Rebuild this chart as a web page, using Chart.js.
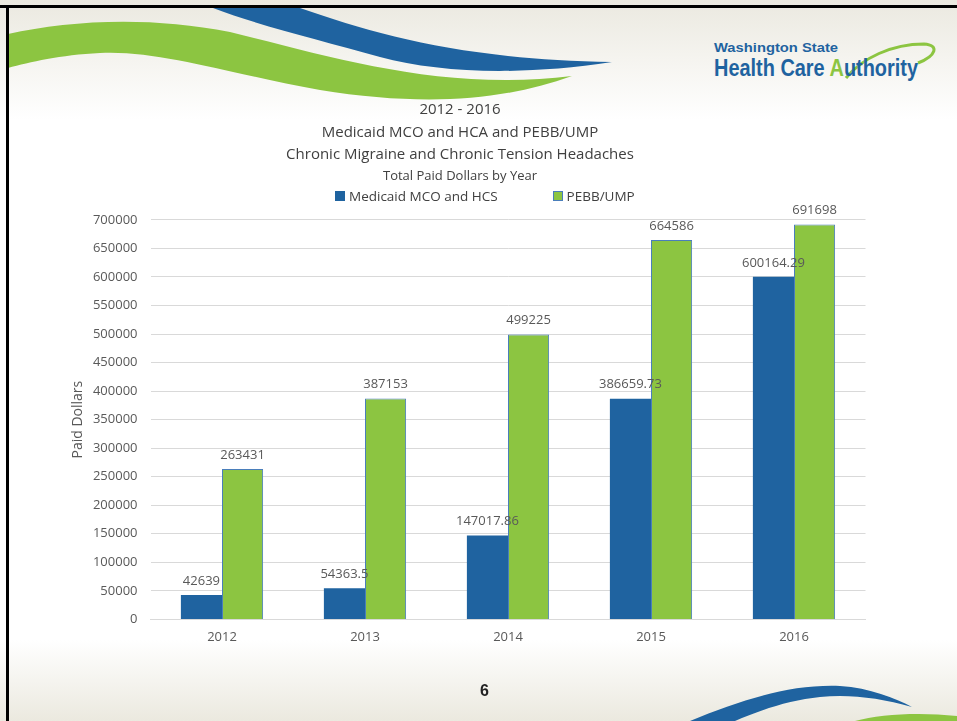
<!DOCTYPE html>
<html>
<head>
<meta charset="utf-8">
<title>Chronic Migraine and Chronic Tension Headaches</title>
<script src="https://cdn.jsdelivr.net/npm/chart.js@4.4.1/dist/chart.umd.min.js"></script>
<style>
  html, body { margin: 0; padding: 0; }
  body { width: 957px; height: 721px; position: relative; overflow: hidden; background: #fff; font-family: "Open Sans", sans-serif; }
  #bg { position: absolute; left: 0; top: 0; }
  #chart { position: absolute; left: 0; top: 0; }
  #legend { position: absolute; left: 335px; top: 187px; display: flex; gap: 55px; font-size: 13.5px; color: #404040; }
  #legend .item { display: flex; align-items: center; white-space: nowrap; }
  #legend .box { width: 10px; height: 10px; box-sizing: border-box; margin-right: 4px; }
  #page { position: absolute; left: 480px; top: 682px; font: bold 16px "Liberation Sans", Arial, sans-serif; color: #222; }
</style>
</head>
<body>
<!-- slide background, swooshes and logo -->
<svg id="bg" width="957" height="721" xmlns="http://www.w3.org/2000/svg">
  <defs>
    <linearGradient id="topGrad" x1="0" y1="0" x2="0" y2="1">
      <stop offset="0" stop-color="#ebe9e0"/>
      <stop offset="1" stop-color="#ffffff"/>
    </linearGradient>
    <linearGradient id="botGrad" x1="0" y1="0" x2="0" y2="1">
      <stop offset="0" stop-color="#ffffff"/>
      <stop offset="1" stop-color="#ebe9df"/>
    </linearGradient>
  </defs>
  <rect x="0" y="0" width="957" height="120" fill="url(#topGrad)"/>
  <rect x="0" y="640" width="957" height="81" fill="url(#botGrad)"/>
  <!-- top swooshes -->
  <path d="M213,8 L300,8 C380,36 470,60 612,62 C520,76 440,73 380,57 C320,40 260,26 213,8 Z" fill="#1f63a0"/>
  <path d="M8,34 C70,20 150,16 230,32 C330,56 440,92 572,76 C500,102 420,106 320,90 C230,74 160,50 100,53 C60,55 30,62 8,68 Z" fill="#8cc541"/>
  <!-- bottom swooshes -->
  <path d="M690,721 C740,700 790,684 840,686 C870,688 895,698 912,707 C880,698 850,694 820,697 C790,700 760,710 735,721 Z" fill="#1f63a0"/>
  <path d="M855,721 C880,714 920,712 957,716 L957,721 Z" fill="#8cc541"/>
  <!-- border -->
  <rect x="0" y="5" width="957" height="3" fill="#000"/>
  <rect x="6" y="5" width="3" height="716" fill="#000"/>
  <!-- logo -->
  <path d="M846,78 C862,58 892,44 924,44 C940,45 936,56 918,63" fill="none" stroke="#8cc541" stroke-width="3"/>
  <text x="714" y="52" textLength="124" lengthAdjust="spacingAndGlyphs" font-family="Liberation Sans Narrow, Liberation Sans" font-weight="bold" font-size="13" fill="#1f63a0">Washington State</text>
  <text x="714" y="76" textLength="204" lengthAdjust="spacingAndGlyphs" font-family="Liberation Sans Narrow, Liberation Sans" font-weight="bold" font-size="24" fill="#1f63a0">Health Care <tspan fill="#8cc541">A</tspan>uthority</text>
</svg>

<canvas id="chart" width="957" height="721"></canvas>
<div id="legend"></div>
<div id="page">6</div>

<script>
// data
const years = ["2012", "2013", "2014", "2015", "2016"];
const medicaidPaid = [42639, 54363.5, 147017.86, 386659.73, 600164.29];
const pebbPaid = [263431, 387153, 499225, 664586, 691698];
const titleLines = ["2012 - 2016", "Medicaid MCO and HCA and PEBB/UMP", "Chronic Migraine and Chronic Tension Headaches"];
const subTitle = "Total Paid Dollars by Year";
const seriesNames = ["Medicaid MCO and HCS", "PEBB/UMP"];

const BLUE = "#1f63a0";
const GREEN = "#8cc541";
const GREEN_EDGE = "#4a7ebb";
const GRID = "#d9d9d9";
const TEXT = "#595959";
const FONT = "'Open Sans', sans-serif";

/* ============ value labels above bars ============ */
const barValues = {
    id: "barValues",
    afterDatasetsDraw(chart) {
        const ctx = chart.ctx;
        ctx.save();
        ctx.font = "13px " + FONT;
        ctx.fillStyle = TEXT;
        ctx.textAlign = "center";
        ctx.textBaseline = "middle";
        chart.data.datasets.forEach((ds, i) => {
            chart.getDatasetMeta(i).data.forEach((bar, j) => {
                ctx.fillText(String(ds.data[j]), bar.x, bar.y - 14);
            });
        });
        ctx.restore();
    }
};

/* ============ html legend (items spaced like the slide) ============ */
const htmlLegend = {
    id: "htmlLegend",
    afterUpdate(chart) {
        const box = document.getElementById("legend");
        box.innerHTML = "";
        chart.data.datasets.forEach(ds => {
            const item = document.createElement("div");
            item.className = "item";
            const sw = document.createElement("span");
            sw.className = "box";
            sw.style.background = ds.backgroundColor;
            sw.style.border = ds.borderWidth ? "1px solid " + ds.borderColor : "none";
            const label = document.createElement("span");
            label.textContent = ds.label;
            item.appendChild(sw);
            item.appendChild(label);
            box.appendChild(item);
        });
    }
};

new Chart(document.getElementById("chart"), {
    type: "bar",
    data: {
        labels: years,
        datasets: [
            { label: seriesNames[0], data: medicaidPaid, backgroundColor: BLUE, borderWidth: 0 },
            { label: seriesNames[1], data: pebbPaid, backgroundColor: GREEN, borderColor: GREEN_EDGE, borderWidth: 1 }
        ]
    },
    options: {
        responsive: false,
        animation: false,
        devicePixelRatio: 1,
        categoryPercentage: 0.575,
        barPercentage: 1,
        layout: { padding: { left: 54.5, right: 91.5, top: 88, bottom: 66 } },
        plugins: {
            legend: { display: false },
            tooltip: { enabled: false },
            title: {
                display: true,
                text: titleLines,
                color: "#404040",
                font: { family: FONT, size: 15, weight: "normal", lineHeight: 1.5 },
                padding: { top: 10.75, bottom: 1 }
            },
            subtitle: {
                display: true,
                text: subTitle,
                color: "#404040",
                font: { family: FONT, size: 13, lineHeight: 1.2 },
                padding: { top: 1, bottom: 36 }
            }
        },
        scales: {
            x: {
                grid: { display: false, drawTicks: false },
                border: { color: GRID },
                ticks: { color: TEXT, padding: 10, font: { family: FONT, size: 13 } }
            },
            y: {
                min: 0,
                max: 700000,
                ticks: {
                    stepSize: 50000,
                    color: TEXT,
                    padding: 13,
                    font: { family: FONT, size: 13 },
                    callback: v => String(v)
                },
                grid: { color: GRID, drawTicks: false },
                border: { display: false },
                title: {
                    display: true,
                    text: "Paid Dollars",
                    color: TEXT,
                    font: { family: FONT, size: 14 },
                    padding: { top: 15, bottom: 0 }
                },
                afterFit(scale) { scale.width = 96; }
            }
        }
    },
    plugins: [barValues, htmlLegend]
});
</script>
</body>
</html>
